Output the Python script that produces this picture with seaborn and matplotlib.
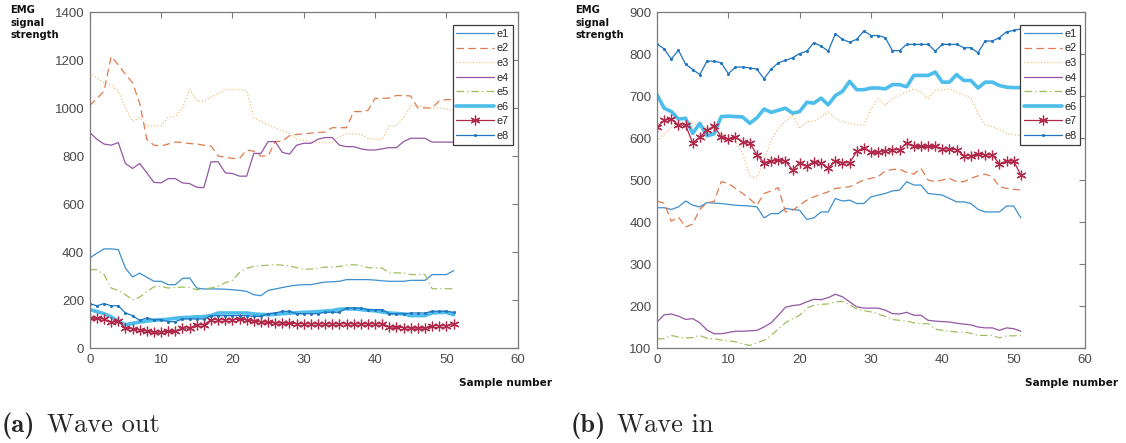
import numpy as np
import seaborn as sns
import matplotlib.pyplot as plt

sns.set_style("white")
plt.rcParams['font.family'] = ['Liberation Sans', 'DejaVu Sans']

samples = np.arange(52)
channels = ['e1', 'e2', 'e3', 'e4', 'e5', 'e6', 'e7', 'e8']

# (a) Wave out
out_e1 = [375, 395, 413, 413, 410, 333, 296, 312, 295, 278, 278, 264, 264, 290, 292, 250, 246, 246, 246, 245,
          243, 240, 236, 222, 218, 240, 246, 252, 258, 262, 264, 264, 270, 275, 276, 278, 285, 285, 285, 285,
          283, 280, 278, 278, 278, 282, 282, 282, 306, 306, 306, 322]
out_e2 = [1010, 1040, 1070, 1215, 1180, 1140, 1105, 1020, 870, 845, 842, 850, 858, 856, 852, 850, 845, 842, 800, 795,
          790, 790, 825, 820, 800, 800, 860, 862, 885, 890, 892, 895, 898, 900, 918, 918, 918, 985, 985, 990,
          1040, 1040, 1042, 1052, 1052, 1050, 1000, 1000, 1000, 1030, 1035, 1035]
out_e3 = [1148, 1125, 1105, 1095, 1070, 1000, 944, 960, 926, 926, 926, 960, 965, 1000, 1078, 1029, 1029, 1045, 1060, 1075,
          1078, 1075, 1071, 960, 944, 930, 916, 905, 895, 870, 865, 856, 856, 856, 856, 880, 893, 893, 890, 875,
          870, 870, 926, 926, 960, 1008, 1008, 1005, 1000, 1000, 995, 990]
out_e4 = [898, 870, 850, 845, 856, 769, 748, 769, 730, 690, 688, 706, 706, 688, 685, 670, 668, 776, 776, 730,
          727, 716, 716, 811, 811, 860, 860, 815, 808, 845, 853, 853, 870, 877, 877, 845, 839, 839, 830, 825,
          825, 830, 835, 835, 860, 874, 874, 874, 858, 858, 858, 858]
out_e5 = [326, 326, 306, 250, 240, 222, 201, 212, 235, 255, 257, 250, 252, 254, 252, 243, 246, 250, 258, 272,
          282, 315, 332, 340, 343, 345, 347, 345, 342, 335, 329, 329, 333, 337, 337, 340, 345, 347, 344, 335,
          333, 333, 313, 313, 313, 306, 306, 306, 247, 247, 247, 247]
out_e6 = [160, 152, 143, 130, 111, 97, 103, 108, 112, 116, 118, 120, 124, 127, 128, 130, 131, 135, 146, 146,
          146, 146, 146, 142, 140, 139, 140, 143, 145, 147, 149, 150, 152, 154, 156, 162, 163, 163, 160, 157,
          155, 150, 146, 144, 142, 135, 135, 135, 146, 148, 149, 139]
out_e7 = [125, 123, 121, 107, 111, 83, 80, 76, 70, 65, 67, 69, 69, 83, 83, 97, 97, 118, 118, 118,
          118, 120, 118, 111, 110, 107, 105, 104, 103, 102, 101, 101, 101, 101, 101, 101, 101, 101, 101, 101,
          101, 101, 88, 86, 85, 83, 83, 83, 93, 93, 93, 101]
out_e8 = [185, 176, 185, 176, 176, 146, 135, 115, 125, 118, 118, 110, 110, 121, 121, 121, 121, 135, 135, 135,
          135, 135, 135, 132, 132, 143, 146, 153, 153, 143, 143, 143, 143, 149, 149, 149, 167, 167, 167, 160,
          160, 160, 143, 143, 143, 146, 146, 146, 153, 153, 153, 149]

# (b) Wave in
in_e1 = [434, 434, 430, 436, 450, 440, 436, 446, 445, 444, 442, 440, 439, 438, 436, 410, 420, 420, 432, 430,
         428, 406, 410, 424, 424, 456, 450, 452, 444, 444, 460, 464, 468, 474, 476, 496, 488, 488, 468, 466,
         464, 456, 448, 448, 444, 430, 424, 424, 424, 438, 438, 410]
in_e2 = [450, 445, 402, 412, 388, 395, 430, 446, 449, 496, 492, 480, 468, 455, 440, 468, 474, 482, 424, 428,
         440, 452, 460, 466, 472, 480, 482, 484, 492, 500, 504, 508, 522, 525, 526, 518, 514, 528, 500, 496,
         500, 504, 496, 496, 504, 510, 514, 508, 484, 480, 478, 476]
in_e3 = [592, 610, 625, 635, 640, 635, 630, 625, 620, 610, 600, 590, 564, 510, 505, 548, 595, 623, 640, 654,
         623, 639, 640, 650, 662, 647, 639, 635, 631, 631, 670, 694, 678, 694, 702, 710, 717, 709, 694, 713,
         715, 717, 710, 702, 696, 658, 631, 627, 620, 611, 608, 605]
in_e4 = [162, 179, 181, 176, 168, 170, 160, 143, 134, 134, 137, 140, 140, 141, 142, 150, 160, 178, 197, 201,
         203, 210, 216, 215, 220, 228, 222, 210, 198, 195, 195, 195, 190, 182, 181, 185, 178, 178, 166, 164,
         163, 162, 159, 157, 155, 150, 148, 148, 142, 148, 146, 140]
in_e5 = [122, 122, 130, 126, 124, 125, 130, 123, 122, 119, 117, 115, 110, 106, 113, 118, 130, 145, 160, 170,
         178, 195, 202, 204, 205, 210, 211, 203, 193, 189, 186, 181, 175, 168, 166, 164, 160, 158, 158, 145,
         142, 140, 138, 138, 135, 130, 130, 130, 124, 129, 129, 130]
in_e6 = [703, 671, 663, 645, 647, 611, 635, 605, 610, 651, 652, 651, 650, 635, 648, 669, 661, 666, 671, 659,
         663, 685, 683, 695, 679, 701, 711, 735, 715, 715, 719, 719, 717, 727, 727, 722, 749, 749, 749, 757,
         733, 733, 751, 737, 737, 719, 733, 733, 725, 721, 720, 720]
in_e7 = [626, 642, 646, 631, 631, 588, 602, 618, 629, 602, 597, 603, 591, 589, 560, 541, 545, 547, 545, 524,
         541, 533, 544, 540, 528, 545, 541, 541, 568, 577, 566, 566, 570, 572, 572, 589, 580, 580, 580, 580,
         574, 574, 572, 558, 558, 562, 560, 560, 538, 545, 545, 512]
in_e8 = [824, 812, 788, 809, 776, 763, 751, 783, 783, 779, 753, 769, 769, 767, 764, 741, 764, 779, 785, 791,
         801, 807, 827, 819, 807, 848, 835, 828, 835, 855, 844, 844, 839, 808, 808, 823, 823, 823, 823, 807,
         823, 823, 823, 815, 815, 803, 831, 831, 839, 853, 856, 860]

wave_out = [out_e1, out_e2, out_e3, out_e4, out_e5, out_e6, out_e7, out_e8]
wave_in = [in_e1, in_e2, in_e3, in_e4, in_e5, in_e6, in_e7, in_e8]

# matlab-ish line styles, a bit washed out like the scan
styles = [
    dict(color='#3d8fcf', lw=0.9, ls='-'),
    dict(color='#e07a4c', lw=0.9, ls=(0, (6, 3.5))),
    dict(color='#ecc27e', lw=0.9, ls=(0, (1, 1.6))),
    dict(color='#9457a3', lw=0.9, ls='-'),
    dict(color='#9fbf5e', lw=0.9, ls=(0, (6, 2.5, 1, 2.5))),
    dict(color='#4dbdec', lw=2.6, ls='-'),
    dict(color='#b0284a', lw=0.9, ls='-', marker=(6, 2, 0), ms=7, mew=0.9),
    dict(color='#1f75bf', lw=0.9, ls='-', marker='o', ms=2.2, mew=0),
]

grey = '#7a7a7a'
fig = plt.figure(figsize=(11.26, 4.43), dpi=100)
ax_a = fig.add_axes([0.0797, 0.2144, 0.3801, 0.7585])
ax_b = fig.add_axes([0.5835, 0.2144, 0.3801, 0.7585])


def draw_panel(ax, series, ylim, ystep):
    for name, vals, st in zip(channels, series, styles):
        st = dict(st)
        c = st.pop('color')
        if 'marker' in st:
            # seaborn puts a white edge on markers by default
            st['markeredgecolor'] = c
            st['markerfacecolor'] = c
        sns.lineplot(x=samples, y=vals, ax=ax, label=name, color=c,
                     linewidth=st.pop('lw'), linestyle=st.pop('ls'), **st)
    ax.set_xlim(0, 60)
    ax.set_ylim(*ylim)
    ax.set_xticks(range(0, 61, 10))
    ax.set_yticks(range(ylim[0], ylim[1] + 1, ystep))
    ax.set_xlabel('')
    ax.set_ylabel('')
    for sp in ax.spines.values():
        sp.set_visible(True)
        sp.set_color(grey)
        sp.set_linewidth(0.9)
    ax.tick_params(direction='in', length=4, width=0.8, color=grey,
                   top=True, right=True, labelsize=9.5, labelcolor='#4a4a4a', pad=4)
    leg = ax.legend(loc='upper right', bbox_to_anchor=(0.989, 0.961), borderaxespad=0,
                    fontsize=7.8, handlelength=3.5, handletextpad=0.25, labelspacing=0.42,
                    borderpad=0.35, frameon=True, fancybox=False, framealpha=1)
    leg.get_frame().set_edgecolor('#3a3a3a')
    leg.get_frame().set_linewidth(0.9)


draw_panel(ax_a, wave_out, (0, 1400), 200)
draw_panel(ax_b, wave_in, (100, 900), 100)

# y label sits above the tick labels, one word per line
ylab_words = ['EMG', 'signal', 'strength']
for x0 in (0.009, 0.511):
    for i, word in enumerate(ylab_words):
        fig.text(x0, 1 - (10 + 12.5 * i) / 443, word, ha='left', va='center', fontsize=7.2,
                 fontweight='bold', family='DejaVu Sans', color='#111111')

for xc in (0.449, 0.952):
    fig.text(xc, 0.135, 'Sample number', ha='center', va='center', fontsize=7.6,
             fontweight='bold', family='DejaVu Sans', color='#111111')

# sub captions
fig.text(0.001, 0.025, '(a)', family='cmb10', fontsize=19, va='baseline')
fig.text(0.042, 0.025, 'Wave out', family='cmr10', fontsize=19, va='baseline')
fig.text(0.507, 0.025, '(b)', family='cmb10', fontsize=19, va='baseline')
fig.text(0.548, 0.025, 'Wave in', family='cmr10', fontsize=19, va='baseline')

fig.savefig('out.png', dpi=100)
